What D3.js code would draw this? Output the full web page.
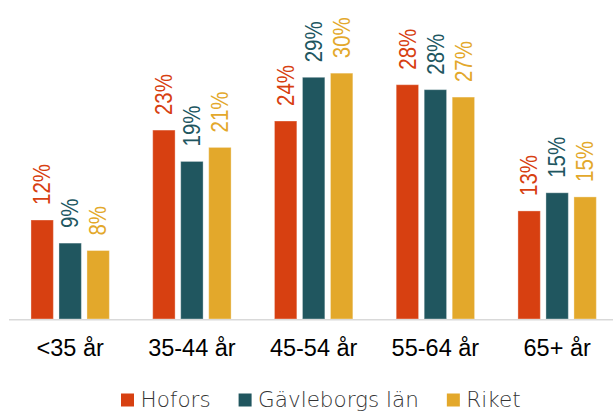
<!DOCTYPE html>
<html>
<head>
<meta charset="utf-8">
<script src="https://cdn.jsdelivr.net/npm/d3@7"></script>
<style>
  html, body { margin: 0; padding: 0; background: #fff; }
  svg { display: block; }
</style>
</head>
<body>
<div id="chart"></div>
<script>
// åldersgrupper
const categories = ['<35 år', '35-44 år', '45-54 år', '55-64 år', '65+ år']
const seriesNames = ['Hofors', 'Gävleborgs län', 'Riket']
const hofors = [12.0, 22.9, 24.0, 28.4, 13.1]
const gavleborg = [9.2, 19.1, 29.3, 27.8, 15.3]
const riket = [8.3, 20.8, 29.8, 26.9, 14.8]
const colors = ['#D74011', '#20565F', '#E3A82B']

const width = 613
const height = 412
const baseY = 319

const svg = d3.select('#chart')
  .append('svg')
  .attr('width', width)
  .attr('height', height)

const values = [hofors, gavleborg, riket]
const rows = categories.map((c, i) => ({
  cat: c,
  vals: seriesNames.map((s, j) => ({ key: s, color: colors[j], v: values[j][i] }))
}))

// x-skala för grupper och staplar
const x0 = d3.scaleBand()
  .domain(categories)
  .range([9.3, 618])
  .paddingInner(0.264)
  .paddingOuter(0.132)

const x1 = d3.scaleBand()
  .domain(seriesNames)
  .range([0, x0.bandwidth()])
  .padding(0.2)

const y = d3.scaleLinear()
  .domain([0, 35])
  .range([baseY, baseY - 35 * 8.25])

const fmt = v => Math.round(v) + '%'

const groups = svg.selectAll('.grp')
  .data(rows)
  .enter()
  .append('g')
  .attr('class', 'grp')
  .attr('transform', d => 'translate(' + x0(d.cat) + ',0)')

groups.selectAll('rect')
  .data(d => d.vals)
  .enter()
  .append('rect')
  .attr('x', d => x1(d.key))
  .attr('y', d => y(d.v))
  .attr('width', x1.bandwidth())
  .attr('height', d => baseY - y(d.v))
  .attr('fill', d => d.color)
  .attr('stroke', '#fff')
  .attr('stroke-opacity', 0.35)
  .attr('stroke-width', 1)

// etiketter, roterade och lite smalare
groups.selectAll('text.lbl')
  .data(d => d.vals)
  .enter()
  .append('text')
  .attr('class', 'lbl')
  .attr('transform', d => 'translate(' + (x1(d.key) + x1.bandwidth() / 2) + ',' + (y(d.v) - 15) + ') rotate(-90) scale(0.89,1)')
  .attr('dy', '0.358em')
  .attr('text-anchor', 'start')
  .attr('font-family', 'Liberation Sans, Arial, sans-serif')
  .attr('font-size', 23)
  .attr('fill', d => d.color)
  .text(d => fmt(d.v))

// x-axel
const xAxis = d3.axisBottom(x0).tickSize(0).tickPadding(0)
const ax = svg.append('g')
  .attr('transform', 'translate(0,' + baseY + ')')
  .call(xAxis)
ax.select('.domain').remove()
ax.selectAll('text')
  .attr('y', 37)
  .attr('dy', 0)
  .attr('font-family', 'Liberation Sans, Arial, sans-serif')
  .attr('font-size', 23.5)
  .attr('fill', '#000')
svg.append('line')
  .attr('x1', 9).attr('x2', width)
  .attr('y1', baseY + 0.75).attr('y2', baseY + 0.75)
  .attr('stroke', '#D9D9D9')
  .attr('stroke-width', 1.5)

// legend
const legend = svg.append('g').attr('transform', 'translate(121,0)')
let lx = 0
seriesNames.forEach((s, i) => {
  const g = legend.append('g').attr('transform', 'translate(' + lx + ',0)')
  g.append('rect')
    .attr('x', 0).attr('y', 393.5)
    .attr('width', 13).attr('height', 13)
    .attr('fill', colors[i])
  const t = g.append('text')
    .attr('x', 19.5).attr('y', 406.7)
    .attr('font-family', 'DejaVu Sans, sans-serif')
    .attr('font-weight', 200)
    .attr('font-size', 21.5)
    .attr('fill', '#333')
    .text(s)
  lx += 19.5 + t.node().getComputedTextLength() + 28
})
</script>
</body>
</html>
